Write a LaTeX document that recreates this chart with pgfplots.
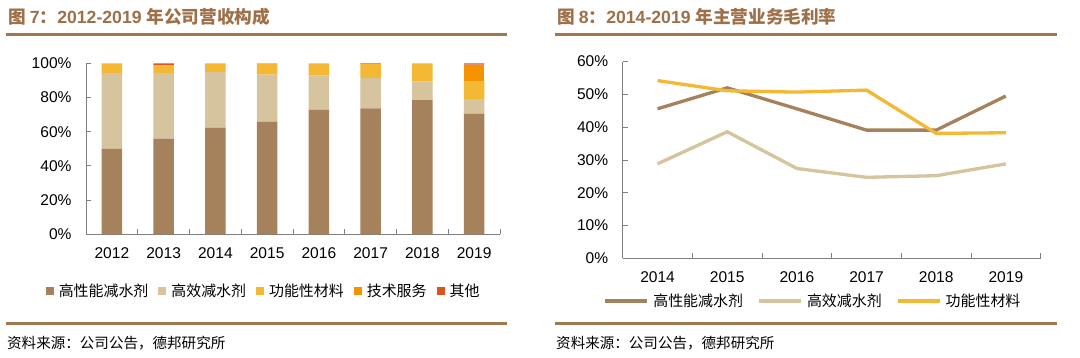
\documentclass[border=0pt]{standalone}
\usepackage{fontspec}
\setmainfont{Liberation Sans}
\newfontfamily\cjk{Noto Sans CJK SC}
\usepackage{pgfplots}
\pgfplotsset{compat=1.18}

\definecolor{cA}{HTML}{A5825C}
\definecolor{cB}{HTML}{D5C49D}
\definecolor{cC}{HTML}{F4B834}
\definecolor{cD}{HTML}{F49200}
\definecolor{cE}{HTML}{D9541E}
\definecolor{titlec}{HTML}{9E7049}
\definecolor{rulec}{HTML}{A07850}
\definecolor{axisgray}{HTML}{808080}

\pgfplotsset{
  common/.style={
    scale only axis,
    anchor=south west,
    axis x line*=bottom, axis y line*=left,
    axis line style={-, draw=axisgray, line width=0.9bp},
    tick style={draw=axisgray, line width=0.9bp},
    major tick length=0pt, minor tick length=5bp,
    tick align=inside,
    ticklabel style={font=\fontsize{15.6}{15.6}\selectfont},
    xticklabel style={yshift=-10bp},
    yticklabel style={xshift=-11bp},
    /pgf/number format/assume math mode=true,
    yticklabel={\pgfmathprintnumber{\tick}\%},
    clip=false,
  },
}

\begin{document}
\begin{tikzpicture}
\path[use as bounding box, fill=white] (0,0) rectangle (1080bp,-358bp);

% titles
\node[anchor=west, inner sep=0, text=titlec, font=\fontsize{17.7}{17.7}\selectfont\bfseries] at (8bp,-17bp)
  {{\cjk 图 }7{\cjk ：}2012-2019 {\cjk 年公司营收构成}};
\node[anchor=west, inner sep=0, text=titlec, font=\fontsize{17.7}{17.7}\selectfont\bfseries] at (557bp,-17bp)
  {{\cjk 图 }8{\cjk ：}2014-2019 {\cjk 年主营业务毛利率}};

% rules
\draw[rulec, line width=2.5bp] (6bp,-34.3bp) -- (507bp,-34.3bp);
\draw[rulec, line width=2.5bp] (555bp,-34.3bp) -- (1057bp,-34.3bp);
\draw[rulec, line width=2.5bp] (6bp,-323.5bp) -- (507bp,-323.5bp);
\draw[rulec, line width=2.5bp] (555bp,-323.5bp) -- (1057bp,-323.5bp);

% sources
\node[anchor=west, inner sep=0, font=\cjk\fontsize{14.6}{14.6}\selectfont] at (7bp,-343bp) {资料来源：公司公告，德邦研究所};
\node[anchor=west, inner sep=0, font=\cjk\fontsize{14.6}{14.6}\selectfont] at (556bp,-343bp) {资料来源：公司公告，德邦研究所};

% ---------- left: stacked bars ----------
\begin{axis}[common,
  at={(86bp,-234.3bp)}, width=414bp, height=171bp,
  xmin=0, xmax=8, ymin=0, ymax=100,
  xtick={0.5,1.5,...,7.5},
  xticklabels={2012,2013,2014,2015,2016,2017,2018,2019},
  minor xtick={0,1,...,8},
  ytick={0,20,...,100}, minor ytick={0,20,...,100},
  ybar stacked, bar width=20.7bp,
  legend columns=5,
  legend style={draw=none, fill=none, at={(0.429,-0.333)}, anchor=center,
    font=\cjk\fontsize{15}{15}\selectfont, inner sep=0pt,
    /tikz/every even column/.append style={column sep=8bp},
    /tikz/every odd column/.append style={column sep=3bp}},
  legend image code/.code={\fill[#1, draw=none] (0bp,-3.8bp) rectangle (8bp,3.8bp);},
]
\addplot[fill=cA, draw=none] coordinates {(0.5,50.0)(1.5,56.0)(2.5,62.4)(3.5,65.7)(4.5,72.9)(5.5,73.7)(6.5,78.4)(7.5,70.4)};
\addplot[fill=cB, draw=none] coordinates {(0.5,44.3)(1.5,38.2)(2.5,32.5)(3.5,27.7)(4.5,20.1)(5.5,17.7)(6.5,10.9)(7.5,8.6)};
\addplot[fill=cC, draw=none] coordinates {(0.5,5.7)(1.5,4.8)(2.5,5.1)(3.5,6.4)(4.5,7.0)(5.5,8.3)(6.5,10.7)(7.5,10.7)};
\addplot[fill=cD, draw=none] coordinates {(0.5,0)(1.5,0)(2.5,0)(3.5,0)(4.5,0)(5.5,0)(6.5,0)(7.5,9.5)};
\addplot[fill=cE, draw=none] coordinates {(0.5,0)(1.5,1.0)(2.5,0)(3.5,0.2)(4.5,0)(5.5,0.3)(6.5,0)(7.5,0.8)};
\legend{高性能减水剂,高效减水剂,功能性材料,技术服务,其他}
\end{axis}

% ---------- right: lines ----------
\begin{axis}[common,
  at={(622.7bp,-258.3bp)}, width=418bp, height=196.7bp,
  xmin=0, xmax=6, ymin=0, ymax=60,
  xtick={0.5,1.5,...,5.5},
  xticklabels={2014,2015,2016,2017,2018,2019},
  minor xtick={0,1,...,6},
  ytick={0,10,...,60}, minor ytick={0,10,...,60},
  legend columns=3,
  legend style={draw=none, fill=none, at={(0.455,-0.2156)}, anchor=center,
    font=\cjk\fontsize{15}{15}\selectfont, inner sep=0pt,
    /tikz/every even column/.append style={column sep=12bp},
    /tikz/every odd column/.append style={column sep=2bp}},
  legend image code/.code={\draw[#1, line width=4bp] (0bp,0bp) -- (42bp,0bp);},
]
\addplot[cA, line width=3.3bp] coordinates {(0.5,45.6)(1.5,52.0)(2.5,45.6)(3.5,39.1)(4.5,39.1)(5.5,49.5)};
\addplot[cB, line width=3.3bp] coordinates {(0.5,28.8)(1.5,38.6)(2.5,27.4)(3.5,24.7)(4.5,25.2)(5.5,28.8)};
\addplot[cC, line width=3.3bp] coordinates {(0.5,54.2)(1.5,51.1)(2.5,50.7)(3.5,51.3)(4.5,38.1)(5.5,38.3)};
\legend{高性能减水剂,高效减水剂,功能性材料}
\end{axis}
\end{tikzpicture}
\end{document}
